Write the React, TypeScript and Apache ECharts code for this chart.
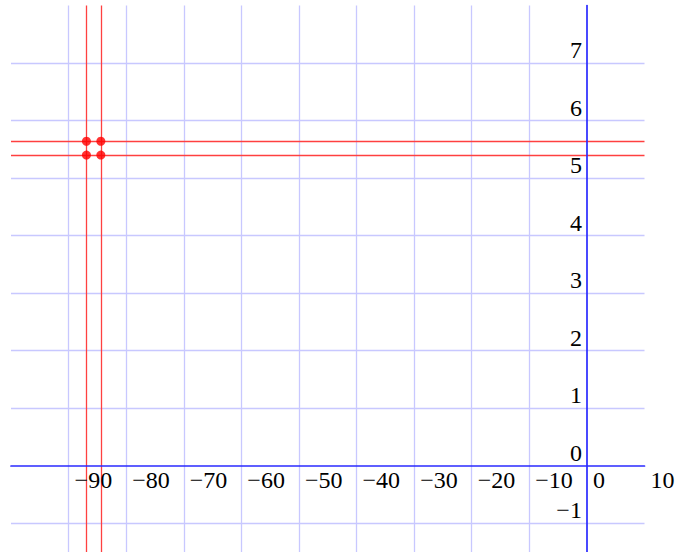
import React, { useEffect, useRef } from "react";
import * as echarts from "echarts";

const xTicks = [-90, -80, -70, -60, -50, -40, -30, -20, -10, 0, 10];
const yTicks = [-1, 0, 1, 2, 3, 4, 5, 6, 7];
const redX = [-86.9, -84.4];
const redY = [5.64, 5.4];

const X_MIN = -100;
const X_MAX = 10;
const Y_MIN = -1.5;
const Y_MAX = 8;

const fmt = (v: number) => (v < 0 ? "\u2212" + Math.abs(v) : String(v));
const FONT = '24px "Liberation Serif", serif';

export default function App() {
  const ref = useRef<HTMLDivElement>(null);
  useEffect(() => {
    if (!ref.current) return;
    const chart = echarts.init(ref.current, undefined, { renderer: "svg" });
    const gridColor = "#c8c8ff";
    const gridLines: any[] = [
      ...xTicks
        .filter((v) => v !== 0 && v > X_MIN && v < X_MAX)
        .map((v) => ({ xAxis: v, lineStyle: { color: gridColor, width: 1.3, type: "solid" } })),
      ...yTicks
        .filter((v) => v !== 0 && v > Y_MIN && v < Y_MAX)
        .map((v) => ({ yAxis: v, lineStyle: { color: gridColor, width: 1.3, type: "solid" } })),
    ];
    const redLines: any[] = [
      ...redX.map((v) => ({ xAxis: v, lineStyle: { color: "#ff4040", width: 1.3, type: "solid" } })),
      ...redY.map((v) => ({ yAxis: v, lineStyle: { color: "#ff4040", width: 1.3, type: "solid" } })),
    ];
    const points: number[][] = [];
    redX.forEach((x) => redY.forEach((y) => points.push([x, y])));

    chart.setOption({
      animation: false,
      grid: { left: 11, right: 34.5, top: 5.5, bottom: -1, containLabel: false },
      xAxis: {
        type: "value",
        min: X_MIN,
        max: X_MAX,
        z: 5,
        axisLine: { show: true, onZero: true, lineStyle: { color: "#2a2aff", width: 1.7 } },
        axisTick: { show: false },
        axisLabel: { show: false },
        splitLine: { show: false },
      },
      yAxis: {
        type: "value",
        min: Y_MIN,
        max: Y_MAX,
        z: 5,
        axisLine: { show: true, onZero: true, lineStyle: { color: "#2a2aff", width: 1.7 } },
        axisTick: { show: false },
        axisLabel: { show: false },
        splitLine: { show: false },
      },
      series: [
        {
          type: "line",
          data: [],
          z: 1,
          silent: true,
          markLine: {
            silent: true,
            symbol: ["none", "none"],
            label: { show: false },
            data: [...gridLines, ...redLines],
          },
        },
        {
          type: "scatter",
          data: points,
          z: 6,
          symbol: "circle",
          symbolSize: 9,
          itemStyle: { color: "#ff0000" },
        },
        {
          type: "custom",
          z: 7,
          clip: false,
          silent: true,
          data: xTicks.map((v) => [v, 0]),
          renderItem: (params: any, api: any) => {
            const v = api.value(0);
            const p = api.coord([v, 0]);
            return {
              type: "text",
              x: p[0] + 6,
              y: p[1] + 14.5,
              style: { text: fmt(v), fill: "#000", font: FONT, align: "left", verticalAlign: "middle" },
            };
          },
        },
        {
          type: "custom",
          z: 7,
          clip: false,
          silent: true,
          data: yTicks.map((v) => [0, v]),
          renderItem: (params: any, api: any) => {
            const v = api.value(1);
            const p = api.coord([0, v]);
            return {
              type: "text",
              x: p[0] - 5,
              y: p[1] - 13,
              style: { text: fmt(v), fill: "#000", font: FONT, align: "right", verticalAlign: "middle" },
            };
          },
        },
      ],
    });
    return () => chart.dispose();
  }, []);
  return (
    <div
      ref={ref}
      style={{ position: "absolute", left: 0, top: 0, width: 679, height: 552, background: "#fff" }}
    />
  );
}
